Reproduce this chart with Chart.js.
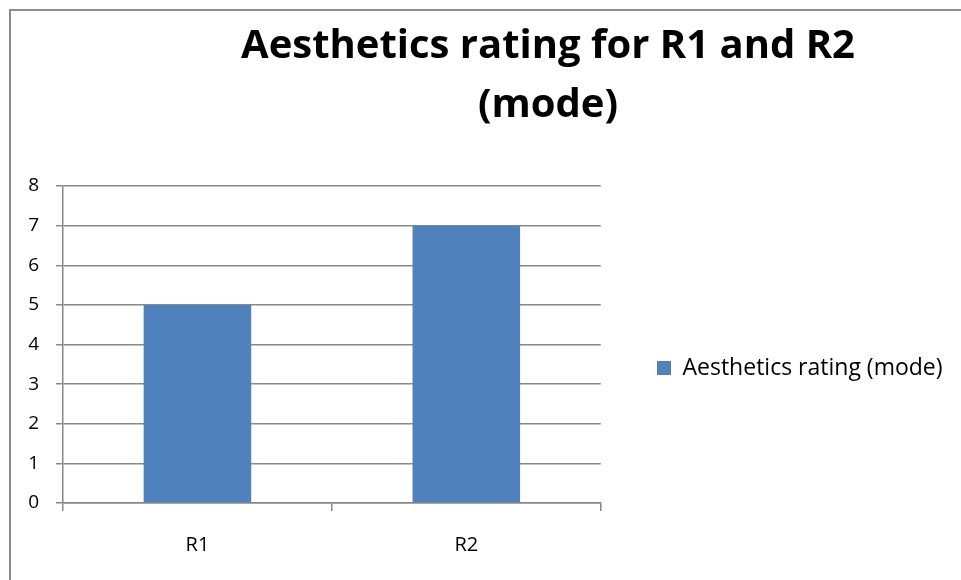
<!DOCTYPE html>
<html>
<head>
<meta charset="utf-8">
<script src="https://cdn.jsdelivr.net/npm/chart.js@4/dist/chart.umd.min.js"></script>
<style>
  html, body { margin: 0; padding: 0; background: #fff; }
  #wrap { position: relative; width: 961px; height: 580px; overflow: hidden; background: #fff; }
  #frame { position: absolute; left: 9px; top: 9px; width: 2000px; height: 2000px;
           border-left: 2px solid #8c8c8c; border-top: 2px solid #8c8c8c; }
  #c { position: absolute; left: 0; top: 0; }
</style>
</head>
<body>
<div id="wrap">
  <div id="frame"></div>
  <canvas id="c" width="961" height="580"></canvas>
</div>
<script>
// Chart content
const titleLines = ['Aesthetics rating for R1 and R2', '(mode)'];
const categories = ['R1', 'R2'];
const seriesName = 'Aesthetics rating (mode)';
const modeValues = [5, 7];
const yMin = 0;
const yMax = 8;
const yStep = 1;

const FONT = 'Open Sans';
const GRID = '#888888';
const BAR = '#4F81BD';

// Moves the title and legend blocks to their final spots after layout
const placeBlocks = {
  id: 'placeBlocks',
  afterUpdate(chart) {
    const t = chart.titleBlock;
    if (t) {
      const cx = 548;
      t.left = cx - 420;
      t.right = cx + 420;
    }
    const lg = chart.legend;
    if (lg) {
      const pad = lg.options.labels.padding;
      const dx = 657 - pad - lg.left;
      const dy = 368 - (lg.top + lg.bottom) / 2;
      lg.left += dx;
      lg.right = chart.width;
      lg.top += dy; lg.bottom += dy;
      lg.adjustHitBoxes();
    }
  }
};

new Chart(document.getElementById('c'), {
  type: 'bar',
  data: {
    labels: categories,
    datasets: [{
      label: seriesName,
      data: modeValues,
      backgroundColor: BAR,
      borderWidth: 0,
      categoryPercentage: 1.0,
      barPercentage: 0.4
    }]
  },
  options: {
    responsive: false,
    animation: false,
    devicePixelRatio: 1,
    layout: { padding: { left: 0, right: 160, top: 0, bottom: 0 } },
    plugins: {
      title: {
        display: true,
        text: titleLines,
        color: '#000',
        font: { family: FONT, size: 40, weight: 'bold', lineHeight: 1.475 },
        padding: { top: 17, bottom: 51 }
      },
      legend: {
        display: true,
        position: 'right',
        labels: {
          color: '#000',
          font: { family: FONT, size: 23 },
          boxWidth: 14,
          boxHeight: 14,
          padding: 10
        }
      },
      tooltip: { enabled: false }
    },
    scales: {
      x: {
        afterFit(scale) { scale.height = 77; },
        grid: { display: true, drawOnChartArea: false, drawTicks: true, tickLength: 8, color: GRID, lineWidth: 1.5, offset: true },
        border: { display: true, color: GRID, width: 1.5 },
        ticks: { color: '#000', font: { family: FONT, size: 20 }, padding: 22 }
      },
      y: {
        min: yMin,
        max: yMax,
        afterFit(scale) { scale.width = 63; },
        grid: { display: true, drawTicks: true, tickLength: 7, color: GRID, lineWidth: 1.5 },
        border: { display: true, color: GRID, width: 1.5 },
        ticks: { stepSize: yStep, color: '#000', font: { family: FONT, size: 19 }, padding: 17 }
      }
    }
  },
  plugins: [placeBlocks]
});
</script>
</body>
</html>
